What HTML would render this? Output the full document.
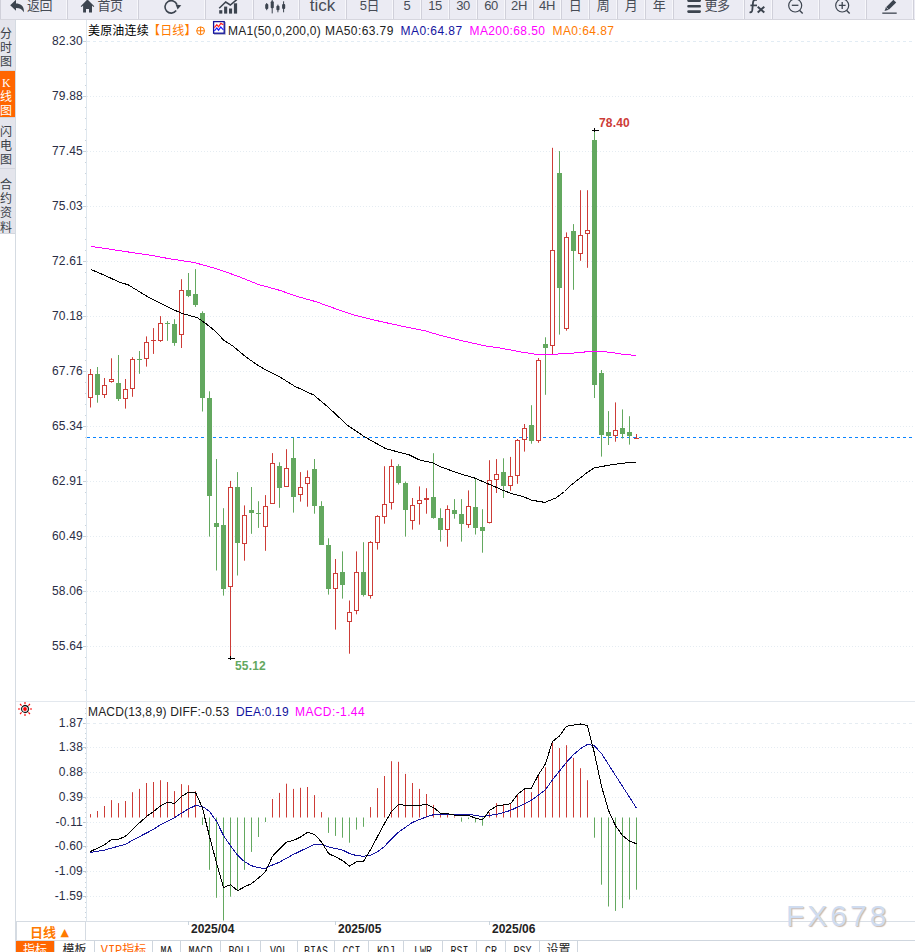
<!DOCTYPE html>
<html lang="zh"><head><meta charset="utf-8"><title>美原油连续 日线</title>
<style>
html,body{margin:0;padding:0;background:#fff;}
body{width:915px;height:952px;position:relative;overflow:hidden;font-family:"Liberation Sans","Noto Sans CJK SC",sans-serif;color:#333;}
#chart{position:absolute;left:0;top:0;}
.toolbar{position:absolute;left:0;top:0;width:915px;height:19px;background:#ebebf3;border-bottom:1px solid #d6d6de;overflow:hidden;}
.tbi{position:absolute;top:-8.6px;height:30px;line-height:30px;padding-right:1px;box-sizing:border-box;border-left:1px solid #d0d0da;box-shadow:inset -1px 0 0 #f7f7fb;text-align:center;font-size:13px;color:#474c56;white-space:nowrap;letter-spacing:-0.4px}
.tbi svg{display:inline-block;vertical-align:middle;margin-right:2px}
.tbi .tick{font-size:17px;letter-spacing:0}
.side{position:absolute;left:0;top:20px;width:16px;height:932px;background:#fff;border-right:1px solid #d5dbe2;box-sizing:border-box;}
.stab{position:absolute;left:0;width:15px;box-sizing:border-box;background:#e4e5ec;color:#3a3f48;font-size:12px;line-height:14.2px;text-align:left;padding-left:0;border-bottom:1px solid #d3d6de;}
.stab.on{background:#ff6600;color:#fff;}
.yl{position:absolute;left:30px;width:53px;text-align:right;font-size:12px;line-height:16px;color:#2a2d45;letter-spacing:0.2px;margin-top:-1px}
.hdr{position:absolute;top:23px;height:16px;line-height:16px;font-size:12px;white-space:nowrap;letter-spacing:0.17px}
.tab{position:absolute;top:941px;height:12px;line-height:20px;font-size:12px;text-align:center;box-sizing:border-box;border-right:1px solid #cfd6de;color:#222;font-family:"Liberation Mono","Noto Sans CJK SC",monospace;overflow:hidden}
.tab.on{background:#ff6600;color:#fff;}
.tab.m{font-size:10px;letter-spacing:0}
.tab.m span{display:inline-block;transform:scaleY(1.25);transform-origin:50% 30%}
.tab.vip{color:#ff6600;}
.tl{position:absolute;top:920px;height:19px;line-height:19px;font-size:12px;font-weight:bold;color:#222;}
</style></head><body>
<svg id="chart" width="915" height="952" viewBox="0 0 915 952" shape-rendering="auto">
<line x1="87" y1="41.5" x2="915" y2="41.5" stroke="#e2ecf4" stroke-width="1" stroke-dasharray="3 3"/>
<line x1="87" y1="96.5" x2="915" y2="96.5" stroke="#e5ecf2" stroke-width="1" stroke-dasharray="1 2"/>
<line x1="87" y1="151.5" x2="915" y2="151.5" stroke="#e5ecf2" stroke-width="1" stroke-dasharray="1 2"/>
<line x1="87" y1="206.5" x2="915" y2="206.5" stroke="#e5ecf2" stroke-width="1" stroke-dasharray="1 2"/>
<line x1="87" y1="261.5" x2="915" y2="261.5" stroke="#e5ecf2" stroke-width="1" stroke-dasharray="1 2"/>
<line x1="87" y1="316.5" x2="915" y2="316.5" stroke="#e5ecf2" stroke-width="1" stroke-dasharray="1 2"/>
<line x1="87" y1="371.5" x2="915" y2="371.5" stroke="#e5ecf2" stroke-width="1" stroke-dasharray="1 2"/>
<line x1="87" y1="426.5" x2="915" y2="426.5" stroke="#e5ecf2" stroke-width="1" stroke-dasharray="1 2"/>
<line x1="87" y1="481.5" x2="915" y2="481.5" stroke="#e5ecf2" stroke-width="1" stroke-dasharray="1 2"/>
<line x1="87" y1="536.5" x2="915" y2="536.5" stroke="#e5ecf2" stroke-width="1" stroke-dasharray="1 2"/>
<line x1="87" y1="591.5" x2="915" y2="591.5" stroke="#e5ecf2" stroke-width="1" stroke-dasharray="1 2"/>
<line x1="87" y1="646.5" x2="915" y2="646.5" stroke="#e5ecf2" stroke-width="1" stroke-dasharray="1 2"/>
<line x1="86.5" y1="20" x2="86.5" y2="921" stroke="#dfe7ee" stroke-width="1"/>
<line x1="83" y1="41.5" x2="86" y2="41.5" stroke="#c9d3dc" stroke-width="1"/>
<line x1="85" y1="52.5" x2="86" y2="52.5" stroke="#c9d3dc" stroke-width="1"/>
<line x1="85" y1="63.5" x2="86" y2="63.5" stroke="#c9d3dc" stroke-width="1"/>
<line x1="85" y1="74.5" x2="86" y2="74.5" stroke="#c9d3dc" stroke-width="1"/>
<line x1="85" y1="85.5" x2="86" y2="85.5" stroke="#c9d3dc" stroke-width="1"/>
<line x1="83" y1="96.5" x2="86" y2="96.5" stroke="#c9d3dc" stroke-width="1"/>
<line x1="85" y1="107.5" x2="86" y2="107.5" stroke="#c9d3dc" stroke-width="1"/>
<line x1="85" y1="118.5" x2="86" y2="118.5" stroke="#c9d3dc" stroke-width="1"/>
<line x1="85" y1="129.5" x2="86" y2="129.5" stroke="#c9d3dc" stroke-width="1"/>
<line x1="85" y1="140.5" x2="86" y2="140.5" stroke="#c9d3dc" stroke-width="1"/>
<line x1="83" y1="151.5" x2="86" y2="151.5" stroke="#c9d3dc" stroke-width="1"/>
<line x1="85" y1="162.5" x2="86" y2="162.5" stroke="#c9d3dc" stroke-width="1"/>
<line x1="85" y1="173.5" x2="86" y2="173.5" stroke="#c9d3dc" stroke-width="1"/>
<line x1="85" y1="184.5" x2="86" y2="184.5" stroke="#c9d3dc" stroke-width="1"/>
<line x1="85" y1="195.5" x2="86" y2="195.5" stroke="#c9d3dc" stroke-width="1"/>
<line x1="83" y1="206.5" x2="86" y2="206.5" stroke="#c9d3dc" stroke-width="1"/>
<line x1="85" y1="217.5" x2="86" y2="217.5" stroke="#c9d3dc" stroke-width="1"/>
<line x1="85" y1="228.5" x2="86" y2="228.5" stroke="#c9d3dc" stroke-width="1"/>
<line x1="85" y1="239.5" x2="86" y2="239.5" stroke="#c9d3dc" stroke-width="1"/>
<line x1="85" y1="250.5" x2="86" y2="250.5" stroke="#c9d3dc" stroke-width="1"/>
<line x1="83" y1="261.5" x2="86" y2="261.5" stroke="#c9d3dc" stroke-width="1"/>
<line x1="85" y1="272.5" x2="86" y2="272.5" stroke="#c9d3dc" stroke-width="1"/>
<line x1="85" y1="283.5" x2="86" y2="283.5" stroke="#c9d3dc" stroke-width="1"/>
<line x1="85" y1="294.5" x2="86" y2="294.5" stroke="#c9d3dc" stroke-width="1"/>
<line x1="85" y1="305.5" x2="86" y2="305.5" stroke="#c9d3dc" stroke-width="1"/>
<line x1="83" y1="316.5" x2="86" y2="316.5" stroke="#c9d3dc" stroke-width="1"/>
<line x1="85" y1="327.5" x2="86" y2="327.5" stroke="#c9d3dc" stroke-width="1"/>
<line x1="85" y1="338.5" x2="86" y2="338.5" stroke="#c9d3dc" stroke-width="1"/>
<line x1="85" y1="349.5" x2="86" y2="349.5" stroke="#c9d3dc" stroke-width="1"/>
<line x1="85" y1="360.5" x2="86" y2="360.5" stroke="#c9d3dc" stroke-width="1"/>
<line x1="83" y1="371.5" x2="86" y2="371.5" stroke="#c9d3dc" stroke-width="1"/>
<line x1="85" y1="382.5" x2="86" y2="382.5" stroke="#c9d3dc" stroke-width="1"/>
<line x1="85" y1="393.5" x2="86" y2="393.5" stroke="#c9d3dc" stroke-width="1"/>
<line x1="85" y1="404.5" x2="86" y2="404.5" stroke="#c9d3dc" stroke-width="1"/>
<line x1="85" y1="415.5" x2="86" y2="415.5" stroke="#c9d3dc" stroke-width="1"/>
<line x1="83" y1="426.5" x2="86" y2="426.5" stroke="#c9d3dc" stroke-width="1"/>
<line x1="85" y1="437.5" x2="86" y2="437.5" stroke="#c9d3dc" stroke-width="1"/>
<line x1="85" y1="448.5" x2="86" y2="448.5" stroke="#c9d3dc" stroke-width="1"/>
<line x1="85" y1="459.5" x2="86" y2="459.5" stroke="#c9d3dc" stroke-width="1"/>
<line x1="85" y1="470.5" x2="86" y2="470.5" stroke="#c9d3dc" stroke-width="1"/>
<line x1="83" y1="481.5" x2="86" y2="481.5" stroke="#c9d3dc" stroke-width="1"/>
<line x1="85" y1="492.5" x2="86" y2="492.5" stroke="#c9d3dc" stroke-width="1"/>
<line x1="85" y1="503.5" x2="86" y2="503.5" stroke="#c9d3dc" stroke-width="1"/>
<line x1="85" y1="514.5" x2="86" y2="514.5" stroke="#c9d3dc" stroke-width="1"/>
<line x1="85" y1="525.5" x2="86" y2="525.5" stroke="#c9d3dc" stroke-width="1"/>
<line x1="83" y1="536.5" x2="86" y2="536.5" stroke="#c9d3dc" stroke-width="1"/>
<line x1="85" y1="547.5" x2="86" y2="547.5" stroke="#c9d3dc" stroke-width="1"/>
<line x1="85" y1="558.5" x2="86" y2="558.5" stroke="#c9d3dc" stroke-width="1"/>
<line x1="85" y1="569.5" x2="86" y2="569.5" stroke="#c9d3dc" stroke-width="1"/>
<line x1="85" y1="580.5" x2="86" y2="580.5" stroke="#c9d3dc" stroke-width="1"/>
<line x1="83" y1="591.5" x2="86" y2="591.5" stroke="#c9d3dc" stroke-width="1"/>
<line x1="85" y1="602.5" x2="86" y2="602.5" stroke="#c9d3dc" stroke-width="1"/>
<line x1="85" y1="613.5" x2="86" y2="613.5" stroke="#c9d3dc" stroke-width="1"/>
<line x1="85" y1="624.5" x2="86" y2="624.5" stroke="#c9d3dc" stroke-width="1"/>
<line x1="85" y1="635.5" x2="86" y2="635.5" stroke="#c9d3dc" stroke-width="1"/>
<line x1="83" y1="646.5" x2="86" y2="646.5" stroke="#c9d3dc" stroke-width="1"/>
<line x1="85" y1="657.5" x2="86" y2="657.5" stroke="#c9d3dc" stroke-width="1"/>
<line x1="85" y1="668.5" x2="86" y2="668.5" stroke="#c9d3dc" stroke-width="1"/>
<line x1="85" y1="679.5" x2="86" y2="679.5" stroke="#c9d3dc" stroke-width="1"/>
<line x1="85" y1="690.5" x2="86" y2="690.5" stroke="#c9d3dc" stroke-width="1"/>
<line x1="87" y1="723.5" x2="915" y2="723.5" stroke="#e5ecf2" stroke-width="1" stroke-dasharray="3 3"/>
<line x1="83" y1="723.5" x2="86" y2="723.5" stroke="#bfc8d1" stroke-width="1"/>
<line x1="87" y1="747.5" x2="915" y2="747.5" stroke="#e5ecf2" stroke-width="1" stroke-dasharray="1 2"/>
<line x1="83" y1="747.5" x2="86" y2="747.5" stroke="#bfc8d1" stroke-width="1"/>
<line x1="87" y1="772.5" x2="915" y2="772.5" stroke="#e5ecf2" stroke-width="1" stroke-dasharray="1 2"/>
<line x1="83" y1="772.5" x2="86" y2="772.5" stroke="#bfc8d1" stroke-width="1"/>
<line x1="87" y1="797.5" x2="915" y2="797.5" stroke="#e5ecf2" stroke-width="1" stroke-dasharray="1 2"/>
<line x1="83" y1="797.5" x2="86" y2="797.5" stroke="#bfc8d1" stroke-width="1"/>
<line x1="87" y1="822.5" x2="915" y2="822.5" stroke="#e5ecf2" stroke-width="1" stroke-dasharray="1 2"/>
<line x1="83" y1="822.5" x2="86" y2="822.5" stroke="#bfc8d1" stroke-width="1"/>
<line x1="87" y1="846.5" x2="915" y2="846.5" stroke="#e5ecf2" stroke-width="1" stroke-dasharray="1 2"/>
<line x1="83" y1="846.5" x2="86" y2="846.5" stroke="#bfc8d1" stroke-width="1"/>
<line x1="87" y1="871.5" x2="915" y2="871.5" stroke="#e5ecf2" stroke-width="1" stroke-dasharray="1 2"/>
<line x1="83" y1="871.5" x2="86" y2="871.5" stroke="#bfc8d1" stroke-width="1"/>
<line x1="87" y1="896.5" x2="915" y2="896.5" stroke="#e5ecf2" stroke-width="1" stroke-dasharray="1 2"/>
<line x1="83" y1="896.5" x2="86" y2="896.5" stroke="#bfc8d1" stroke-width="1"/>
<line x1="85" y1="708.5" x2="86" y2="708.5" stroke="#c9d3dc" stroke-width="1"/>
<line x1="85" y1="713.5" x2="86" y2="713.5" stroke="#c9d3dc" stroke-width="1"/>
<line x1="85" y1="718.5" x2="86" y2="718.5" stroke="#c9d3dc" stroke-width="1"/>
<line x1="85" y1="723.5" x2="86" y2="723.5" stroke="#c9d3dc" stroke-width="1"/>
<line x1="85" y1="728.5" x2="86" y2="728.5" stroke="#c9d3dc" stroke-width="1"/>
<line x1="85" y1="733.5" x2="86" y2="733.5" stroke="#c9d3dc" stroke-width="1"/>
<line x1="85" y1="738.5" x2="86" y2="738.5" stroke="#c9d3dc" stroke-width="1"/>
<line x1="85" y1="743.5" x2="86" y2="743.5" stroke="#c9d3dc" stroke-width="1"/>
<line x1="85" y1="748.5" x2="86" y2="748.5" stroke="#c9d3dc" stroke-width="1"/>
<line x1="85" y1="753.5" x2="86" y2="753.5" stroke="#c9d3dc" stroke-width="1"/>
<line x1="85" y1="758.5" x2="86" y2="758.5" stroke="#c9d3dc" stroke-width="1"/>
<line x1="85" y1="763.5" x2="86" y2="763.5" stroke="#c9d3dc" stroke-width="1"/>
<line x1="85" y1="768.5" x2="86" y2="768.5" stroke="#c9d3dc" stroke-width="1"/>
<line x1="85" y1="773.5" x2="86" y2="773.5" stroke="#c9d3dc" stroke-width="1"/>
<line x1="85" y1="778.5" x2="86" y2="778.5" stroke="#c9d3dc" stroke-width="1"/>
<line x1="85" y1="783.5" x2="86" y2="783.5" stroke="#c9d3dc" stroke-width="1"/>
<line x1="85" y1="788.5" x2="86" y2="788.5" stroke="#c9d3dc" stroke-width="1"/>
<line x1="85" y1="793.5" x2="86" y2="793.5" stroke="#c9d3dc" stroke-width="1"/>
<line x1="85" y1="798.5" x2="86" y2="798.5" stroke="#c9d3dc" stroke-width="1"/>
<line x1="85" y1="803.5" x2="86" y2="803.5" stroke="#c9d3dc" stroke-width="1"/>
<line x1="85" y1="807.5" x2="86" y2="807.5" stroke="#c9d3dc" stroke-width="1"/>
<line x1="85" y1="812.5" x2="86" y2="812.5" stroke="#c9d3dc" stroke-width="1"/>
<line x1="85" y1="817.5" x2="86" y2="817.5" stroke="#c9d3dc" stroke-width="1"/>
<line x1="85" y1="822.5" x2="86" y2="822.5" stroke="#c9d3dc" stroke-width="1"/>
<line x1="85" y1="827.5" x2="86" y2="827.5" stroke="#c9d3dc" stroke-width="1"/>
<line x1="85" y1="832.5" x2="86" y2="832.5" stroke="#c9d3dc" stroke-width="1"/>
<line x1="85" y1="837.5" x2="86" y2="837.5" stroke="#c9d3dc" stroke-width="1"/>
<line x1="85" y1="842.5" x2="86" y2="842.5" stroke="#c9d3dc" stroke-width="1"/>
<line x1="85" y1="847.5" x2="86" y2="847.5" stroke="#c9d3dc" stroke-width="1"/>
<line x1="85" y1="852.5" x2="86" y2="852.5" stroke="#c9d3dc" stroke-width="1"/>
<line x1="85" y1="857.5" x2="86" y2="857.5" stroke="#c9d3dc" stroke-width="1"/>
<line x1="85" y1="862.5" x2="86" y2="862.5" stroke="#c9d3dc" stroke-width="1"/>
<line x1="85" y1="867.5" x2="86" y2="867.5" stroke="#c9d3dc" stroke-width="1"/>
<line x1="85" y1="872.5" x2="86" y2="872.5" stroke="#c9d3dc" stroke-width="1"/>
<line x1="85" y1="877.5" x2="86" y2="877.5" stroke="#c9d3dc" stroke-width="1"/>
<line x1="85" y1="882.5" x2="86" y2="882.5" stroke="#c9d3dc" stroke-width="1"/>
<line x1="85" y1="887.5" x2="86" y2="887.5" stroke="#c9d3dc" stroke-width="1"/>
<line x1="85" y1="892.5" x2="86" y2="892.5" stroke="#c9d3dc" stroke-width="1"/>
<line x1="85" y1="897.5" x2="86" y2="897.5" stroke="#c9d3dc" stroke-width="1"/>
<line x1="85" y1="902.5" x2="86" y2="902.5" stroke="#c9d3dc" stroke-width="1"/>
<line x1="85" y1="907.5" x2="86" y2="907.5" stroke="#c9d3dc" stroke-width="1"/>
<line x1="85" y1="912.5" x2="86" y2="912.5" stroke="#c9d3dc" stroke-width="1"/>
<line x1="85" y1="917.5" x2="86" y2="917.5" stroke="#c9d3dc" stroke-width="1"/>
<line x1="16" y1="701.5" x2="915" y2="701.5" stroke="#e3e8ee" stroke-width="1"/>
<line x1="16" y1="921.5" x2="915" y2="921.5" stroke="#d9dfe6" stroke-width="1"/>
<line x1="16" y1="940.5" x2="915" y2="940.5" stroke="#cfd6de" stroke-width="1"/>
<line x1="87" y1="437.5" x2="915" y2="437.5" stroke="#0a84ff" stroke-width="1" stroke-dasharray="3 3"/>
<rect x="90" y="369" width="1" height="5" fill="#cd3c37"/>
<rect x="90" y="398" width="1" height="9.5" fill="#cd3c37"/>
<rect x="88.5" y="374.5" width="4" height="23" fill="#fff" stroke="#cd3c37" stroke-width="1"/>
<rect x="97" y="367" width="1" height="35.7" fill="#63a85f"/>
<rect x="95" y="374" width="5" height="21" fill="#63a85f"/>
<rect x="104" y="378" width="1" height="7" fill="#cd3c37"/>
<rect x="104" y="395" width="1" height="3" fill="#cd3c37"/>
<rect x="102.5" y="385.5" width="4" height="9" fill="#fff" stroke="#cd3c37" stroke-width="1"/>
<rect x="111" y="358.3" width="1" height="20.7" fill="#cd3c37"/>
<rect x="111" y="382" width="1" height="0.7" fill="#cd3c37"/>
<rect x="109.5" y="379.5" width="4" height="2" fill="#fff" stroke="#cd3c37" stroke-width="1"/>
<rect x="118" y="355" width="1" height="46" fill="#63a85f"/>
<rect x="116" y="383" width="5" height="16" fill="#63a85f"/>
<rect x="125" y="379" width="1" height="10" fill="#cd3c37"/>
<rect x="125" y="399" width="1" height="9.6" fill="#cd3c37"/>
<rect x="123.5" y="389.5" width="4" height="9" fill="#fff" stroke="#cd3c37" stroke-width="1"/>
<rect x="132" y="357.2" width="1" height="1.8" fill="#cd3c37"/>
<rect x="132" y="389" width="1" height="7.8" fill="#cd3c37"/>
<rect x="130.5" y="359.5" width="4" height="29" fill="#fff" stroke="#cd3c37" stroke-width="1"/>
<rect x="139" y="351" width="1" height="22.8" fill="#63a85f"/>
<rect x="137" y="359" width="5" height="1" fill="#63a85f"/>
<rect x="146" y="336.4" width="1" height="5.6" fill="#cd3c37"/>
<rect x="146" y="359" width="1" height="7.6" fill="#cd3c37"/>
<rect x="144.5" y="342.5" width="4" height="16" fill="#fff" stroke="#cd3c37" stroke-width="1"/>
<rect x="153" y="328.1" width="1" height="11.9" fill="#cd3c37"/>
<rect x="153" y="341" width="1" height="12.9" fill="#cd3c37"/>
<rect x="151" y="340" width="5" height="1" fill="#cd3c37"/>
<rect x="160" y="316.1" width="1" height="6.9" fill="#cd3c37"/>
<rect x="160" y="341" width="1" height="0.9" fill="#cd3c37"/>
<rect x="158.5" y="323.5" width="4" height="17" fill="#fff" stroke="#cd3c37" stroke-width="1"/>
<rect x="167" y="321.1" width="1" height="19.7" fill="#63a85f"/>
<rect x="165" y="323" width="5" height="1" fill="#63a85f"/>
<rect x="174" y="319.2" width="1" height="26.6" fill="#63a85f"/>
<rect x="172" y="324" width="5" height="19" fill="#63a85f"/>
<rect x="181" y="279.2" width="1" height="10.8" fill="#cd3c37"/>
<rect x="181" y="335" width="1" height="13" fill="#cd3c37"/>
<rect x="179.5" y="290.5" width="4" height="44" fill="#fff" stroke="#cd3c37" stroke-width="1"/>
<rect x="188" y="273" width="1" height="24.1" fill="#63a85f"/>
<rect x="186" y="290" width="5" height="6" fill="#63a85f"/>
<rect x="195" y="269.1" width="1" height="37.8" fill="#63a85f"/>
<rect x="193" y="294" width="5" height="11" fill="#63a85f"/>
<rect x="202" y="311.3" width="1" height="100.2" fill="#63a85f"/>
<rect x="200" y="313" width="5" height="85" fill="#63a85f"/>
<rect x="209" y="391.3" width="1" height="145.3" fill="#63a85f"/>
<rect x="207" y="398" width="5" height="98" fill="#63a85f"/>
<rect x="216" y="459" width="1" height="111.5" fill="#63a85f"/>
<rect x="214" y="523" width="5" height="4" fill="#63a85f"/>
<rect x="223" y="508.2" width="1" height="87.4" fill="#63a85f"/>
<rect x="221" y="525" width="5" height="64" fill="#63a85f"/>
<rect x="230" y="480.9" width="1" height="6.1" fill="#cd3c37"/>
<rect x="230" y="587" width="1" height="70.5" fill="#cd3c37"/>
<rect x="228.5" y="487.5" width="4" height="99" fill="#fff" stroke="#cd3c37" stroke-width="1"/>
<rect x="237" y="472.1" width="1" height="103.4" fill="#63a85f"/>
<rect x="235" y="487" width="5" height="56" fill="#63a85f"/>
<rect x="244" y="505.4" width="1" height="9.6" fill="#cd3c37"/>
<rect x="244" y="544" width="1" height="16.7" fill="#cd3c37"/>
<rect x="242.5" y="515.5" width="4" height="28" fill="#fff" stroke="#cd3c37" stroke-width="1"/>
<rect x="251" y="487" width="1" height="46.8" fill="#63a85f"/>
<rect x="249" y="510" width="5" height="3" fill="#63a85f"/>
<rect x="258" y="501.2" width="1" height="26.7" fill="#63a85f"/>
<rect x="256" y="513" width="5" height="1" fill="#63a85f"/>
<rect x="265" y="495.1" width="1" height="10.9" fill="#cd3c37"/>
<rect x="265" y="527" width="1" height="23.8" fill="#cd3c37"/>
<rect x="263.5" y="506.5" width="4" height="20" fill="#fff" stroke="#cd3c37" stroke-width="1"/>
<rect x="272" y="453.1" width="1" height="9.9" fill="#cd3c37"/>
<rect x="270.5" y="463.5" width="4" height="40" fill="#fff" stroke="#cd3c37" stroke-width="1"/>
<rect x="279" y="462.3" width="1" height="45.5" fill="#63a85f"/>
<rect x="277" y="466" width="5" height="22" fill="#63a85f"/>
<rect x="286" y="449.2" width="1" height="18.8" fill="#cd3c37"/>
<rect x="284.5" y="468.5" width="4" height="18" fill="#fff" stroke="#cd3c37" stroke-width="1"/>
<rect x="293" y="437.6" width="1" height="75" fill="#63a85f"/>
<rect x="291" y="458" width="5" height="39" fill="#63a85f"/>
<rect x="300" y="472.1" width="1" height="14.9" fill="#cd3c37"/>
<rect x="300" y="495" width="1" height="6.6" fill="#cd3c37"/>
<rect x="298.5" y="487.5" width="4" height="7" fill="#fff" stroke="#cd3c37" stroke-width="1"/>
<rect x="307" y="470.4" width="1" height="6.6" fill="#cd3c37"/>
<rect x="307" y="484" width="1" height="22.7" fill="#cd3c37"/>
<rect x="305.5" y="477.5" width="4" height="6" fill="#fff" stroke="#cd3c37" stroke-width="1"/>
<rect x="314" y="459" width="1" height="54.7" fill="#63a85f"/>
<rect x="312" y="469" width="5" height="37" fill="#63a85f"/>
<rect x="321" y="501.2" width="1" height="43.4" fill="#63a85f"/>
<rect x="319" y="506" width="5" height="39" fill="#63a85f"/>
<rect x="328" y="538.3" width="1" height="56.3" fill="#63a85f"/>
<rect x="326" y="545" width="5" height="44" fill="#63a85f"/>
<rect x="335" y="559" width="1" height="14" fill="#cd3c37"/>
<rect x="335" y="589" width="1" height="40.6" fill="#cd3c37"/>
<rect x="333.5" y="573.5" width="4" height="15" fill="#fff" stroke="#cd3c37" stroke-width="1"/>
<rect x="342" y="551.4" width="1" height="47.2" fill="#63a85f"/>
<rect x="340" y="572" width="5" height="13" fill="#63a85f"/>
<rect x="349" y="600.5" width="1" height="11.5" fill="#cd3c37"/>
<rect x="349" y="622" width="1" height="31.7" fill="#cd3c37"/>
<rect x="347.5" y="612.5" width="4" height="9" fill="#fff" stroke="#cd3c37" stroke-width="1"/>
<rect x="356" y="551.4" width="1" height="20.6" fill="#cd3c37"/>
<rect x="356" y="611" width="1" height="3.3" fill="#cd3c37"/>
<rect x="354.5" y="572.5" width="4" height="38" fill="#fff" stroke="#cd3c37" stroke-width="1"/>
<rect x="363" y="542.2" width="1" height="54.3" fill="#63a85f"/>
<rect x="361" y="572" width="5" height="23" fill="#63a85f"/>
<rect x="370" y="541.1" width="1" height="0.9" fill="#cd3c37"/>
<rect x="370" y="596" width="1" height="2.6" fill="#cd3c37"/>
<rect x="368.5" y="542.5" width="4" height="53" fill="#fff" stroke="#cd3c37" stroke-width="1"/>
<rect x="377" y="515.2" width="1" height="0.8" fill="#cd3c37"/>
<rect x="377" y="543" width="1" height="6.6" fill="#cd3c37"/>
<rect x="375.5" y="516.5" width="4" height="26" fill="#fff" stroke="#cd3c37" stroke-width="1"/>
<rect x="384" y="466.2" width="1" height="37.8" fill="#cd3c37"/>
<rect x="384" y="517" width="1" height="6.7" fill="#cd3c37"/>
<rect x="382.5" y="504.5" width="4" height="12" fill="#fff" stroke="#cd3c37" stroke-width="1"/>
<rect x="391" y="459.3" width="1" height="6.7" fill="#cd3c37"/>
<rect x="391" y="503" width="1" height="6.5" fill="#cd3c37"/>
<rect x="389.5" y="466.5" width="4" height="36" fill="#fff" stroke="#cd3c37" stroke-width="1"/>
<rect x="398" y="464.2" width="1" height="20.3" fill="#63a85f"/>
<rect x="396" y="466" width="5" height="17" fill="#63a85f"/>
<rect x="405" y="481.6" width="1" height="55" fill="#63a85f"/>
<rect x="403" y="483" width="5" height="27" fill="#63a85f"/>
<rect x="412" y="498" width="1" height="7" fill="#cd3c37"/>
<rect x="412" y="521" width="1" height="8.6" fill="#cd3c37"/>
<rect x="410.5" y="505.5" width="4" height="15" fill="#fff" stroke="#cd3c37" stroke-width="1"/>
<rect x="419" y="486.4" width="1" height="13.6" fill="#cd3c37"/>
<rect x="419" y="504" width="1" height="20.6" fill="#cd3c37"/>
<rect x="417.5" y="500.5" width="4" height="3" fill="#fff" stroke="#cd3c37" stroke-width="1"/>
<rect x="426" y="488.2" width="1" height="9.8" fill="#cd3c37"/>
<rect x="426" y="500" width="1" height="13.7" fill="#cd3c37"/>
<rect x="424.5" y="498.5" width="4" height="1" fill="#fff" stroke="#cd3c37" stroke-width="1"/>
<rect x="433" y="453.2" width="1" height="65.5" fill="#63a85f"/>
<rect x="431" y="497" width="5" height="21" fill="#63a85f"/>
<rect x="440" y="508.3" width="1" height="33.3" fill="#63a85f"/>
<rect x="438" y="518" width="5" height="12" fill="#63a85f"/>
<rect x="447" y="505.3" width="1" height="3.7" fill="#cd3c37"/>
<rect x="447" y="530" width="1" height="16.7" fill="#cd3c37"/>
<rect x="445.5" y="509.5" width="4" height="20" fill="#fff" stroke="#cd3c37" stroke-width="1"/>
<rect x="454" y="499.1" width="1" height="19.6" fill="#63a85f"/>
<rect x="452" y="510" width="5" height="4" fill="#63a85f"/>
<rect x="461" y="499.1" width="1" height="42.5" fill="#63a85f"/>
<rect x="459" y="514" width="5" height="10" fill="#63a85f"/>
<rect x="468" y="490.4" width="1" height="15.6" fill="#cd3c37"/>
<rect x="468" y="525" width="1" height="2.9" fill="#cd3c37"/>
<rect x="466.5" y="506.5" width="4" height="18" fill="#fff" stroke="#cd3c37" stroke-width="1"/>
<rect x="475" y="478.4" width="1" height="56.1" fill="#63a85f"/>
<rect x="473" y="507" width="5" height="21" fill="#63a85f"/>
<rect x="482" y="509.2" width="1" height="43.5" fill="#63a85f"/>
<rect x="480" y="527" width="5" height="4" fill="#63a85f"/>
<rect x="489" y="460.2" width="1" height="19.8" fill="#cd3c37"/>
<rect x="489" y="523" width="1" height="0.4" fill="#cd3c37"/>
<rect x="487.5" y="480.5" width="4" height="42" fill="#fff" stroke="#cd3c37" stroke-width="1"/>
<rect x="496" y="459.1" width="1" height="14.9" fill="#cd3c37"/>
<rect x="496" y="480" width="1" height="13" fill="#cd3c37"/>
<rect x="494.5" y="474.5" width="4" height="5" fill="#fff" stroke="#cd3c37" stroke-width="1"/>
<rect x="503" y="458.3" width="1" height="39.7" fill="#63a85f"/>
<rect x="501" y="472" width="5" height="14" fill="#63a85f"/>
<rect x="510" y="456.9" width="1" height="19.1" fill="#cd3c37"/>
<rect x="510" y="486" width="1" height="4.8" fill="#cd3c37"/>
<rect x="508.5" y="476.5" width="4" height="9" fill="#fff" stroke="#cd3c37" stroke-width="1"/>
<rect x="517" y="439" width="1" height="1" fill="#cd3c37"/>
<rect x="517" y="476" width="1" height="7.8" fill="#cd3c37"/>
<rect x="515.5" y="440.5" width="4" height="35" fill="#fff" stroke="#cd3c37" stroke-width="1"/>
<rect x="524" y="424" width="1" height="4" fill="#cd3c37"/>
<rect x="524" y="440" width="1" height="11.6" fill="#cd3c37"/>
<rect x="522.5" y="428.5" width="4" height="11" fill="#fff" stroke="#cd3c37" stroke-width="1"/>
<rect x="531" y="405.2" width="1" height="38.5" fill="#63a85f"/>
<rect x="529" y="425" width="5" height="16" fill="#63a85f"/>
<rect x="538" y="358" width="1" height="2" fill="#cd3c37"/>
<rect x="538" y="441" width="1" height="1.8" fill="#cd3c37"/>
<rect x="536.5" y="360.5" width="4" height="80" fill="#fff" stroke="#cd3c37" stroke-width="1"/>
<rect x="545" y="337.3" width="1" height="57.5" fill="#63a85f"/>
<rect x="543" y="344" width="5" height="4" fill="#63a85f"/>
<rect x="552" y="147.8" width="1" height="102.2" fill="#cd3c37"/>
<rect x="552" y="346" width="1" height="8.3" fill="#cd3c37"/>
<rect x="550.5" y="250.5" width="4" height="95" fill="#fff" stroke="#cd3c37" stroke-width="1"/>
<rect x="559" y="151.1" width="1" height="183.5" fill="#63a85f"/>
<rect x="557" y="173" width="5" height="115" fill="#63a85f"/>
<rect x="566" y="232.4" width="1" height="4.6" fill="#cd3c37"/>
<rect x="566" y="329" width="1" height="1.7" fill="#cd3c37"/>
<rect x="564.5" y="237.5" width="4" height="91" fill="#fff" stroke="#cd3c37" stroke-width="1"/>
<rect x="573" y="224.1" width="1" height="65.7" fill="#63a85f"/>
<rect x="571" y="231" width="5" height="20" fill="#63a85f"/>
<rect x="580" y="190.2" width="1" height="44.8" fill="#cd3c37"/>
<rect x="580" y="254" width="1" height="6.8" fill="#cd3c37"/>
<rect x="578.5" y="235.5" width="4" height="18" fill="#fff" stroke="#cd3c37" stroke-width="1"/>
<rect x="587" y="190.2" width="1" height="39.8" fill="#cd3c37"/>
<rect x="587" y="234" width="1" height="33.8" fill="#cd3c37"/>
<rect x="585.5" y="230.5" width="4" height="3" fill="#fff" stroke="#cd3c37" stroke-width="1"/>
<rect x="594" y="130.8" width="1" height="267.2" fill="#63a85f"/>
<rect x="592" y="140" width="5" height="245" fill="#63a85f"/>
<rect x="601" y="370" width="1" height="86.6" fill="#63a85f"/>
<rect x="599" y="373" width="5" height="62" fill="#63a85f"/>
<rect x="608" y="411.1" width="1" height="33.9" fill="#63a85f"/>
<rect x="606" y="432" width="5" height="4" fill="#63a85f"/>
<rect x="615" y="402.4" width="1" height="27.6" fill="#cd3c37"/>
<rect x="615" y="436" width="1" height="5.7" fill="#cd3c37"/>
<rect x="613.5" y="430.5" width="4" height="5" fill="#fff" stroke="#cd3c37" stroke-width="1"/>
<rect x="622" y="409.4" width="1" height="29.1" fill="#63a85f"/>
<rect x="620" y="428" width="5" height="6" fill="#63a85f"/>
<rect x="629" y="416.2" width="1" height="28.4" fill="#63a85f"/>
<rect x="627" y="432" width="5" height="4" fill="#63a85f"/>
<rect x="636" y="434" width="1" height="4" fill="#cd3c37"/>
<rect x="634" y="438" width="5" height="1" fill="#cd3c37"/>
<polyline shape-rendering="crispEdges" fill="none" stroke="#ff00ff" stroke-width="1" stroke-linejoin="round" points="90.6,246.4 105.9,248.6 127.7,251.9 149.6,255.1 171.4,259.1 193.3,262.3 215.1,268.3 237,275.9 258.9,284.6 280,290.4 296.8,296.4 316.1,301.7 328.1,306.1 352.1,314.5 376.2,320.5 400.2,325.8 424.3,330.6 438.7,334.9 462.7,340.9 484.4,345.7 500,348 521.9,352.1 536.1,354.3 552.5,354.3 572.1,353.2 591.8,351.3 609.3,352.1 622.4,354.3 636.2,355.4"/>
<polyline shape-rendering="crispEdges" fill="none" stroke="#000" stroke-width="1" stroke-linejoin="round" points="90.6,269.3 105.9,275.9 120.1,282.5 127.7,284.6 149.6,297.8 171.4,308.7 181.3,313.1 197.7,317.9 206.4,324 215.1,331 223.9,340.4 232.6,345.8 245.7,356.8 258.9,366 272,373.2 280,377 294.4,386.1 313.7,395 328.1,407.1 347.3,425.1 364.2,436.6 385.8,448.7 409.8,455.1 419.2,459.8 433.4,463.1 442.1,467.4 461.8,474.4 473.8,477.7 488,483.8 503.3,490.4 512.1,493.7 523,496.5 531.7,500.2 544.9,502.4 555.8,498 564.5,491.5 570,486 587.4,472.3 594,468 609.3,465.1 622.4,463.2 636.2,462"/>
<path d="M592 130.5h7M594.5 128v4" stroke="#000" stroke-width="1" fill="none"/>
<path d="M228 658.5h7M230.5 656v4" stroke="#000" stroke-width="1" fill="none"/>
<rect x="90" y="814.1" width="1" height="3.4" fill="#cd3c37"/>
<rect x="97" y="811" width="1" height="6.5" fill="#cd3c37"/>
<rect x="104" y="806" width="1" height="11.5" fill="#cd3c37"/>
<rect x="111" y="800.1" width="1" height="17.4" fill="#cd3c37"/>
<rect x="118" y="803.1" width="1" height="14.4" fill="#cd3c37"/>
<rect x="125" y="801" width="1" height="16.5" fill="#cd3c37"/>
<rect x="132" y="792.2" width="1" height="25.3" fill="#cd3c37"/>
<rect x="139" y="788.9" width="1" height="28.6" fill="#cd3c37"/>
<rect x="146" y="783" width="1" height="34.5" fill="#cd3c37"/>
<rect x="153" y="782" width="1" height="35.5" fill="#cd3c37"/>
<rect x="160" y="780.2" width="1" height="37.3" fill="#cd3c37"/>
<rect x="167" y="782" width="1" height="35.5" fill="#cd3c37"/>
<rect x="174" y="791.1" width="1" height="26.4" fill="#cd3c37"/>
<rect x="181" y="784.1" width="1" height="33.4" fill="#cd3c37"/>
<rect x="188" y="785.2" width="1" height="32.3" fill="#cd3c37"/>
<rect x="195" y="791.1" width="1" height="26.4" fill="#cd3c37"/>
<rect x="202" y="817.5" width="1" height="7.5" fill="#63a85f"/>
<rect x="209" y="817.5" width="1" height="52.3" fill="#63a85f"/>
<rect x="216" y="817.5" width="1" height="80.3" fill="#63a85f"/>
<rect x="223" y="817.5" width="1" height="103" fill="#63a85f"/>
<rect x="230" y="817.5" width="1" height="79.2" fill="#63a85f"/>
<rect x="237" y="817.5" width="1" height="72.6" fill="#63a85f"/>
<rect x="244" y="817.5" width="1" height="52.3" fill="#63a85f"/>
<rect x="251" y="817.5" width="1" height="34.4" fill="#63a85f"/>
<rect x="258" y="817.5" width="1" height="19.5" fill="#63a85f"/>
<rect x="265" y="817.5" width="1" height="4.5" fill="#63a85f"/>
<rect x="272" y="799" width="1" height="18.5" fill="#cd3c37"/>
<rect x="279" y="792.9" width="1" height="24.6" fill="#cd3c37"/>
<rect x="286" y="783.7" width="1" height="33.8" fill="#cd3c37"/>
<rect x="293" y="788.9" width="1" height="28.6" fill="#cd3c37"/>
<rect x="300" y="787.8" width="1" height="29.7" fill="#cd3c37"/>
<rect x="307" y="787" width="1" height="30.5" fill="#cd3c37"/>
<rect x="314" y="795.1" width="1" height="22.4" fill="#cd3c37"/>
<rect x="321" y="812.1" width="1" height="5.4" fill="#cd3c37"/>
<rect x="328" y="817.5" width="1" height="15.4" fill="#63a85f"/>
<rect x="335" y="817.5" width="1" height="18.4" fill="#63a85f"/>
<rect x="342" y="817.5" width="1" height="20.2" fill="#63a85f"/>
<rect x="349" y="817.5" width="1" height="25.2" fill="#63a85f"/>
<rect x="356" y="817.5" width="1" height="12.1" fill="#63a85f"/>
<rect x="363" y="817.5" width="1" height="9.3" fill="#63a85f"/>
<rect x="370" y="807.1" width="1" height="10.4" fill="#cd3c37"/>
<rect x="377" y="788.1" width="1" height="29.4" fill="#cd3c37"/>
<rect x="384" y="776" width="1" height="41.5" fill="#cd3c37"/>
<rect x="391" y="761.2" width="1" height="56.3" fill="#cd3c37"/>
<rect x="398" y="761.8" width="1" height="55.7" fill="#cd3c37"/>
<rect x="405" y="773.9" width="1" height="43.6" fill="#cd3c37"/>
<rect x="412" y="783" width="1" height="34.5" fill="#cd3c37"/>
<rect x="419" y="788.9" width="1" height="28.6" fill="#cd3c37"/>
<rect x="426" y="794" width="1" height="23.5" fill="#cd3c37"/>
<rect x="433" y="804.9" width="1" height="12.6" fill="#cd3c37"/>
<rect x="440" y="813.2" width="1" height="4.3" fill="#cd3c37"/>
<rect x="447" y="814.7" width="1" height="2.8" fill="#cd3c37"/>
<rect x="454" y="816.5" width="1" height="1" fill="#cd3c37"/>
<rect x="461" y="817.5" width="1" height="4.2" fill="#63a85f"/>
<rect x="468" y="817.5" width="1" height="1.6" fill="#63a85f"/>
<rect x="475" y="817.5" width="1" height="4.9" fill="#63a85f"/>
<rect x="482" y="817.5" width="1" height="8.2" fill="#63a85f"/>
<rect x="489" y="812.5" width="1" height="5" fill="#cd3c37"/>
<rect x="496" y="803.1" width="1" height="14.4" fill="#cd3c37"/>
<rect x="503" y="804.2" width="1" height="13.3" fill="#cd3c37"/>
<rect x="510" y="803.1" width="1" height="14.4" fill="#cd3c37"/>
<rect x="517" y="794" width="1" height="23.5" fill="#cd3c37"/>
<rect x="524" y="788.5" width="1" height="29" fill="#cd3c37"/>
<rect x="531" y="792.2" width="1" height="25.3" fill="#cd3c37"/>
<rect x="538" y="775.4" width="1" height="42.1" fill="#cd3c37"/>
<rect x="545" y="767.3" width="1" height="50.2" fill="#cd3c37"/>
<rect x="552" y="742.6" width="1" height="74.9" fill="#cd3c37"/>
<rect x="559" y="748.1" width="1" height="69.4" fill="#cd3c37"/>
<rect x="566" y="745.2" width="1" height="72.3" fill="#cd3c37"/>
<rect x="573" y="757.9" width="1" height="59.6" fill="#cd3c37"/>
<rect x="580" y="768.2" width="1" height="49.3" fill="#cd3c37"/>
<rect x="587" y="780.2" width="1" height="37.3" fill="#cd3c37"/>
<rect x="594" y="817.5" width="1" height="20.2" fill="#63a85f"/>
<rect x="601" y="817.5" width="1" height="67.2" fill="#63a85f"/>
<rect x="608" y="817.5" width="1" height="89" fill="#63a85f"/>
<rect x="615" y="817.5" width="1" height="93.4" fill="#63a85f"/>
<rect x="622" y="817.5" width="1" height="90.6" fill="#63a85f"/>
<rect x="629" y="817.5" width="1" height="82" fill="#63a85f"/>
<rect x="636" y="817.5" width="1" height="72.2" fill="#63a85f"/>
<polyline shape-rendering="crispEdges" fill="none" stroke="#1414a0" stroke-width="1" stroke-linejoin="round" points="90.5,852.5 104.5,850.1 125.5,844.2 139.5,836.6 153.5,829.4 160.5,824.6 174.5,817.6 188.5,808.8 195.5,805.6 202.5,806.4 209.5,811.5 216.5,821.3 223.5,835.5 230.5,845.8 237.5,855.2 244.5,861.7 251.5,865.7 258.5,867.8 265.5,868.3 272.5,865 279.5,862.2 291.9,855.2 314.6,844.2 321.6,844.2 328.6,846.9 342.6,850.1 349.6,853.6 356.6,855.6 363.6,856.3 370.5,855.2 377.5,851.9 384.5,846.4 391.5,838.8 398.5,832.2 405.5,827.2 412.5,822.4 419.5,819.5 426.5,816.9 433.5,814.7 440.5,814.1 454.5,814.3 468.6,814.3 482.6,816.5 489.6,815.4 496.6,814.3 503.6,812.5 510.5,810.4 517.5,807.1 524.5,803.8 531.5,800.1 538.5,795.1 545.5,789.6 552.5,779.8 559.5,771 566.5,762.3 573.5,754.6 580.5,748.7 587.5,744.3 594.5,745.9 601.5,753.5 608.5,764.5 615.5,775.4 622.5,786.3 629.5,797.2 636.5,808.2"/>
<polyline shape-rendering="crispEdges" fill="none" stroke="#000" stroke-width="1" stroke-linejoin="round" points="90.5,851.5 104.5,844.7 111.5,839.4 118.5,839.4 125.5,836.2 132.5,829.4 139.5,822.8 146.5,816.5 153.5,811.5 160.5,806 167.5,802.1 174.5,803.4 181.5,796.2 188.5,792.4 195.5,792.4 202.5,808.2 209.5,836.6 216.5,862.8 223.5,887.5 230.5,884.7 237.5,890.6 244.5,886.9 251.5,883.6 258.5,878.1 265.5,871.6 272.5,856.3 279.5,848.8 286.4,842.1 293.4,840.5 300.6,837 307.6,832.2 314.6,834.4 321.6,842.1 328.6,853.6 335.6,856.9 342.6,860.6 349.6,866.1 356.6,861.7 363.6,861.3 370.5,849.7 377.5,836.6 384.5,823.5 391.5,811.5 398.5,804.5 405.5,805.3 412.5,805.3 419.5,805.3 426.5,804.5 433.5,807.5 440.5,813.2 447.5,813.6 454.5,815.2 461.5,815.4 468.5,815.2 475.6,818.4 482.6,819.8 489.6,810.4 496.6,806 503.6,804.9 510.5,803.8 517.5,794.4 524.5,788.9 531.5,788.1 538.5,774.7 545.5,763.8 552.5,741.5 559.5,736 566.5,726.2 573.5,725.1 580.5,724 587.5,725.6 594.5,753.5 601.5,786.3 608.5,810.4 615.5,825.7 622.5,835.5 629.5,841 636.5,843.8"/>
<line x1="188.5" y1="921" x2="188.5" y2="925" stroke="#c9d3dc" stroke-width="1"/>
<line x1="335.5" y1="921" x2="335.5" y2="925" stroke="#c9d3dc" stroke-width="1"/>
<line x1="489.5" y1="921" x2="489.5" y2="925" stroke="#c9d3dc" stroke-width="1"/>
</svg>
<div class="toolbar"><div class="tbi" style="left:0px;width:67px"><span style="display:inline-block;width:12px"></span>返回</div><div class="tbi" style="left:67px;width:71px"><span style="display:inline-block;width:15px"></span>首页</div><div class="tbi" style="left:138px;width:67px"></div><div class="tbi" style="left:205px;width:48px"></div><div class="tbi" style="left:253px;width:46px"></div><div class="tbi" style="left:299px;width:47px"><span class="tick">tick</span></div><div class="tbi" style="left:346px;width:47px">5日</div><div class="tbi" style="left:393px;width:28px">5</div><div class="tbi" style="left:421px;width:28px">15</div><div class="tbi" style="left:449px;width:28px">30</div><div class="tbi" style="left:477px;width:28px">60</div><div class="tbi" style="left:505px;width:28px">2H</div><div class="tbi" style="left:533px;width:28px">4H</div><div class="tbi" style="left:561px;width:28px">日</div><div class="tbi" style="left:589px;width:28px">周</div><div class="tbi" style="left:617px;width:28px">月</div><div class="tbi" style="left:645px;width:28px">年</div><div class="tbi" style="left:673px;width:71px"><span style="display:inline-block;width:17px"></span>更多</div><div class="tbi" style="left:744px;width:28px"></div><div class="tbi" style="left:772px;width:47px"></div><div class="tbi" style="left:819px;width:47px"></div><div class="tbi" style="left:866px;width:47px"></div><div class="tbi" style="left:913px;width:28px"></div></div>
<svg style="position:absolute;left:0;top:0" width="915" height="19" viewBox="0 0 915 19">
<g fill="#3c444f" stroke="none">
<path d="M10.2 5.2 L16 -0.3 V3.6 C20.6 3.6 24.6 6.6 23.8 12.2 C22.4 9.2 20 8 16 7.9 V10.7 Z"/>
<path d="M87.4 -0.6 L80.7 6.2 L81.6 7.1 L83.1 5.6 V12.5 H86 V8.9 H89 V12.5 H92 V5.6 L93.4 7.1 L94.3 6.2 Z"/>
<path d="M175.6 4.4 L181.3 5.2 L177.6 9.4 Z"/>
<rect x="219.2" y="10.2" width="3.1" height="3.4"/><rect x="224.1" y="6.6" width="3.1" height="7"/><rect x="229" y="8.5" width="3.1" height="5.1"/><rect x="233.9" y="3.3" width="3.2" height="10.3"/>
<rect x="266.2" y="3" width="1" height="7.2"/><rect x="265.2" y="4.1" width="3.1" height="4.9" rx="1"/>
<rect x="271.7" y="-1" width="1" height="14.4"/><rect x="270.7" y="1.3" width="3.1" height="6.9" rx="1"/>
<rect x="277.4" y="4.6" width="1" height="7.7"/><rect x="276.4" y="5.7" width="3.1" height="4.5" rx="1"/>
<rect x="283.1" y="1.3" width="1" height="11"/><rect x="282.1" y="4.1" width="3.1" height="4.9" rx="1"/>
<path d="M882.3 12.5h14.4v1.3h-14.4z"/>
<path d="M884.5 11.1 L886 7.2 L893.4 -0.2 L896.2 2.4 L888.8 9.8 Z"/>
</g>
<g fill="none" stroke="#3c444f">
<path d="M176.2 10.6 A6.2 6.2 0 1 1 177 4.6" stroke-width="1.6"/><path d="M886.2 7.4L888.6 9.6" stroke="#ebebf3" stroke-width="0.7"/>
<path d="M219.2 8.2 L225.7 2 L230.3 5 L236.8 -0.4" stroke-width="1.5"/>
<path d="M688.5 0.6h11.2M688.5 6.3h11.2M688.5 11.6h11.2" stroke-width="2.6" stroke-linecap="round"/>
<path d="M756.9 0.2 C754.2 -0.8 753.2 0.6 753 2.6 L752.3 10 C752.1 12 751.2 12.6 749.6 12.1" stroke-width="1.8"/>
<path d="M750.4 5.4h6.6" stroke-width="1.7"/>
<path d="M757.7 6.7l6.6 5.8M764.3 6.7L757.7 12.5" stroke-width="2"/>
<circle cx="795.2" cy="5.5" r="6.5" stroke-width="1.2"/><path d="M791.8 5.3h6.6" stroke-width="1.3"/><path d="M799.7 10.6l3 3" stroke-width="1.4"/>
<circle cx="842.2" cy="5.5" r="6.5" stroke-width="1.2"/><path d="M838.8 5.4h6.8M842.2 2v6.9" stroke-width="1.3"/><path d="M846.7 10.6l3 3" stroke-width="1.4"/>
</g></svg>
<div class="side">
<div class="stab" style="top:0;height:51px;padding-top:7px">分<br>时<br>图</div>
<div class="stab on" style="top:51px;height:47px;padding-top:4.5px"><span style="font-family:'Liberation Serif',serif;padding-left:2px">K</span><br>线<br>图</div>
<div class="stab" style="top:98px;height:51px;padding-top:7px">闪<br>电<br>图</div>
<div class="stab" style="top:149px;height:65px;padding-top:9px">合<br>约<br>资<br>料</div>
</div>
<div class="yl" style="top:33.5px">82.30</div><div class="yl" style="top:88.5px">79.88</div><div class="yl" style="top:143.5px">77.45</div><div class="yl" style="top:198.5px">75.03</div><div class="yl" style="top:253.5px">72.61</div><div class="yl" style="top:308.5px">70.18</div><div class="yl" style="top:363.5px">67.76</div><div class="yl" style="top:418.5px">65.34</div><div class="yl" style="top:473.5px">62.91</div><div class="yl" style="top:528.5px">60.49</div><div class="yl" style="top:583.5px">58.06</div><div class="yl" style="top:638.5px">55.64</div><div class="yl" style="top:716.0px">1.87</div><div class="yl" style="top:740.0px">1.38</div><div class="yl" style="top:765.0px">0.88</div><div class="yl" style="top:790.0px">0.39</div><div class="yl" style="top:815.0px">-0.11</div><div class="yl" style="top:839.0px">-0.60</div><div class="yl" style="top:864.0px">-1.09</div><div class="yl" style="top:889.0px">-1.59</div>
<div class="hdr" style="left:88px;color:#000">美原油连续</div>
<div class="hdr" style="left:148px;color:#ff7a00">【日线】</div>
<svg style="position:absolute;left:195px;top:25px" width="12" height="12" viewBox="0 0 12 12"><circle cx="5.6" cy="5.8" r="3.9" fill="none" stroke="#ff7a00" stroke-width="1"/><path d="M1.7 5.8h7.8M5.6 1.9v7.8" stroke="#ff7a00" stroke-width="1"/></svg>
<svg style="position:absolute;left:212px;top:20px" width="15" height="16" viewBox="0 0 15 16"><rect x="2" y="2" width="11.6" height="12.6" fill="#8a8ab0"/><rect x="1.6" y="1.6" width="10.6" height="11.6" fill="#fff" stroke="#14149a" stroke-width="1.3"/><path d="M2.4 7.6l2.4-3 1.8 2.2 2.2-3.4 2.6 1.4" stroke="#ff2020" fill="none" stroke-width="1.2"/><path d="M2.4 11l2.4-3 1.8 2.2 2.2-3.2 2.6 2.8" stroke="#1a1aff" fill="none" stroke-width="1.2"/></svg>
<div class="hdr" style="left:228px;color:#222;letter-spacing:0.24px">MA1(50,0,200,0)</div>
<div class="hdr" style="left:325px;color:#222;letter-spacing:0.4px">MA50:63.79</div>
<div class="hdr" style="left:400.5px;color:#1414a0;letter-spacing:0.45px">MA0:64.87</div>
<div class="hdr" style="left:469.5px;color:#ff00ff;letter-spacing:0.4px">MA200:68.50</div>
<div class="hdr" style="left:552.5px;color:#ff7a00;letter-spacing:0.42px">MA0:64.87</div>
<div class="hdr" style="left:599px;top:115px;color:#cd3c37;font-weight:bold">78.40</div>
<div class="hdr" style="left:235px;top:658px;color:#63a85f;font-weight:bold">55.12</div>
<div class="hdr" style="left:88px;top:704px;color:#222">MACD(13,8,9) DIFF:-0.53</div>
<div class="hdr" style="left:236px;top:704px;color:#1414a0">DEA:0.19</div>
<div class="hdr" style="left:295px;top:704px;color:#ff00ff;letter-spacing:0.4px">MACD:-1.44</div>
<svg style="position:absolute;left:18px;top:702px" width="14" height="14" viewBox="0 0 14 14"><circle cx="7" cy="7" r="3.4" fill="#fff" stroke="#000" stroke-width="1.1"/><circle cx="7" cy="7" r="1.9" fill="#ff0000"/><path d="M7 0v2.2M7 11.8v2.2M0 7h2.2M11.8 7h2.2M2 2l1.6 1.6M10.4 10.4l1.6 1.6M2 12l1.6-1.6M10.4 3.6l1.6-1.6" stroke="#ff0000" stroke-width="1.1"/></svg>
<div style="position:absolute;left:16px;top:921px;width:70px;height:20px;border:1px solid #d5dbe2;box-sizing:border-box;background:#fff;color:#ff7a00;font-weight:bold;font-size:13px;line-height:22px;padding-left:13px">日线<span style="font-size:11px;position:absolute;left:43.5px;top:-0.5px;font-family:'DejaVu Sans',sans-serif;font-weight:normal">▲</span></div>
<div class="tl" style="left:191px">2025/04</div>
<div class="tl" style="left:338px">2025/05</div>
<div class="tl" style="left:492px">2025/06</div>
<div class="tab on" style="left:16px;width:39px">指标</div><div class="tab " style="left:55px;width:40px">模板</div><div class="tab vip" style="left:95px;width:58px">VIP指标</div><div class="tab m" style="left:153px;width:28px"><span>MA</span></div><div class="tab m" style="left:181px;width:40px"><span>MACD</span></div><div class="tab m" style="left:221px;width:40px"><span>BOLL</span></div><div class="tab m" style="left:261px;width:37px"><span>VOL</span></div><div class="tab m" style="left:298px;width:37px"><span>BIAS</span></div><div class="tab m" style="left:335px;width:34px"><span>CCI</span></div><div class="tab m" style="left:369px;width:35px"><span>KDJ</span></div><div class="tab m" style="left:404px;width:39px"><span>LWR</span></div><div class="tab m" style="left:443px;width:34px"><span>RSI</span></div><div class="tab m" style="left:477px;width:29px"><span>CR</span></div><div class="tab m" style="left:506px;width:34px"><span>PSY</span></div><div class="tab " style="left:540px;width:38px">设置</div>
<div style="position:absolute;left:786px;top:899px;font-size:30px;line-height:34px;letter-spacing:3px;color:#cfdcf0;text-shadow:1px 1px 1px #c9b9b0;font-family:'Liberation Sans',sans-serif">FX678</div>
</body></html>
